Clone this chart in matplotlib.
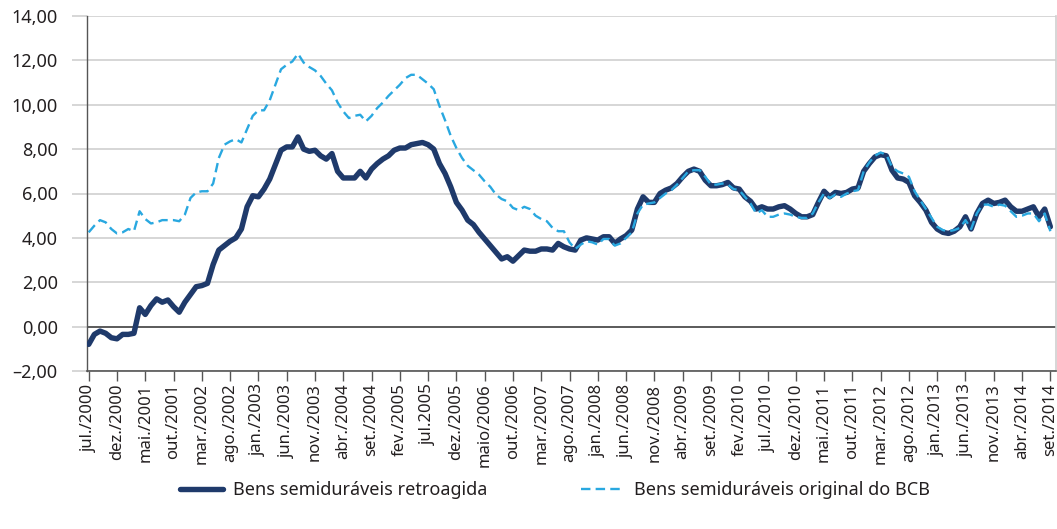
import matplotlib
matplotlib.use("Agg")
import matplotlib.pyplot as plt
import numpy as np

# Monthly series, jul/2000 ... set/2014 (171 months)
retroagida = [
    -0.80, -0.35, -0.20, -0.30, -0.50, -0.55, -0.35, -0.35, -0.30, 0.85,
    0.55, 0.95, 1.25, 1.10, 1.20, 0.90, 0.65, 1.10, 1.45, 1.80,
    1.85, 1.95, 2.80, 3.45, 3.65, 3.85, 4.00, 4.40, 5.40, 5.90,
    5.85, 6.20, 6.65, 7.30, 7.95, 8.10, 8.10, 8.55, 8.00, 7.90,
    7.95, 7.70, 7.55, 7.80, 7.00, 6.70, 6.70, 6.70, 7.00, 6.70,
    7.10, 7.35, 7.55, 7.70, 7.95, 8.05, 8.05, 8.20, 8.25, 8.30,
    8.20, 8.00, 7.35, 6.90, 6.30, 5.60, 5.25, 4.80, 4.60, 4.25,
    3.95, 3.65, 3.35, 3.05, 3.15, 2.95, 3.20, 3.45, 3.40, 3.40,
    3.50, 3.50, 3.45, 3.75, 3.60, 3.50, 3.45, 3.90, 4.00, 3.95,
    3.90, 4.05, 4.05, 3.75, 3.95, 4.10, 4.35, 5.30, 5.85, 5.60,
    5.60, 6.00, 6.15, 6.25, 6.45, 6.75, 7.00, 7.10, 7.00, 6.60,
    6.35, 6.35, 6.40, 6.50, 6.25, 6.20, 5.85, 5.65, 5.30, 5.40,
    5.30, 5.30, 5.40, 5.45, 5.30, 5.10, 4.95, 4.95, 5.05, 5.60,
    6.10, 5.85, 6.05, 6.00, 6.05, 6.20, 6.25, 7.00, 7.35, 7.65,
    7.75, 7.70, 7.05, 6.70, 6.65, 6.50, 5.90, 5.60, 5.25, 4.70,
    4.40, 4.25, 4.20, 4.30, 4.50, 4.95, 4.40, 5.10, 5.55, 5.70,
    5.55, 5.60, 5.70, 5.40, 5.20, 5.20, 5.30, 5.40, 4.95, 5.30,
    4.50,
]

original_bcb = [
    4.25, 4.55, 4.80, 4.70, 4.40, 4.20, 4.25, 4.40, 4.30, 5.20,
    4.85, 4.65, 4.70, 4.80, 4.80, 4.80, 4.75, 5.05, 5.80, 6.05,
    6.10, 6.10, 6.45, 7.60, 8.20, 8.35, 8.45, 8.30, 8.90, 9.50,
    9.75, 9.75, 10.20, 10.90, 11.60, 11.80, 11.95, 12.30, 11.90, 11.70,
    11.55, 11.30, 10.95, 10.65, 10.10, 9.70, 9.40, 9.50, 9.55, 9.25,
    9.50, 9.85, 10.10, 10.40, 10.65, 10.90, 11.20, 11.35, 11.35, 11.15,
    10.95, 10.70, 9.95, 9.30, 8.60, 8.05, 7.60, 7.25, 7.05, 6.85,
    6.55, 6.30, 5.95, 5.75, 5.65, 5.35, 5.25, 5.40, 5.30, 5.00,
    4.85, 4.75, 4.45, 4.30, 4.30, 3.80, 3.50, 3.70, 3.85, 3.80,
    3.70, 3.95, 3.95, 3.65, 3.75, 4.00, 4.25, 5.10, 5.50, 5.55,
    5.60, 5.80, 6.00, 6.15, 6.40, 6.70, 7.00, 7.05, 7.05, 6.75,
    6.40, 6.40, 6.45, 6.40, 6.20, 6.15, 5.85, 5.55, 5.10, 5.25,
    4.95, 4.95, 5.05, 5.10, 5.05, 4.95, 4.90, 4.90, 5.10, 5.60,
    6.00, 5.80, 5.95, 5.85, 6.00, 6.10, 6.15, 7.00, 7.40, 7.70,
    7.85, 7.75, 7.20, 7.00, 6.90, 6.75, 6.10, 5.70, 5.30, 4.90,
    4.50, 4.35, 4.30, 4.35, 4.45, 4.80, 4.40, 5.10, 5.50, 5.50,
    5.40, 5.50, 5.45, 5.20, 4.95, 5.00, 5.10, 5.10, 4.75, 5.10,
    4.30,
]

tick_labels = [
    "jul./2000", "dez./2000", "mai./2001", "out./2001", "mar./2002", "ago./2002",
    "jan./2003", "jun./2003", "nov./2003", "abr./2004", "set./2004", "fev./2005",
    "jul.2005", "dez./2005", "maio/2006", "out./2006", "mar./2007", "ago./2007",
    "jan./2008", "jun./2008", "nov./2008", "abr./2009", "set./2009", "fev./2010",
    "jul./2010", "dez./2010", "mai./2011", "out./2011", "mar./2012", "ago./2012",
    "jan./2013", "jun./2013", "nov./2013", "abr./2014", "set./2014",
]
tick_step = 5  # one label every five months

y_ticks = [-2, 0, 2, 4, 6, 8, 10, 12, 14]
series_names = ["Bens semiduráveis retroagida", "Bens semiduráveis original do BCB"]

plt.rcParams["font.family"] = ["Noto Sans", "DejaVu Sans"]

fig = plt.figure(figsize=(10.57, 5.29), dpi=100)
ax = fig.add_axes([87 / 1057, 1 - 371 / 529, (1056 - 87) / 1057, (371 - 16) / 529])

x = np.arange(len(retroagida))
DARK = "#1f3a6b"
LIGHT = "#29a8e0"

ax.plot(x, retroagida, color=DARK, lw=3.9, solid_joinstyle="round",
        solid_capstyle="round", label=series_names[0], zorder=3)
ax.plot(x, original_bcb, color=LIGHT, lw=1.7, dashes=(4.0, 2.2),
        label=series_names[1], zorder=4)

ax.set_ylim(-2, 14)
ax.set_xlim(-0.3, 171)
ax.set_yticks(y_ticks)
ax.set_yticklabels([("–" + f"{abs(v):.2f}" if v < 0 else f"{v:.2f}").replace(".", ",")
                    for v in y_ticks], fontsize=13, color="#231f20")
ax.yaxis.grid(True, color="#cfcfcf", lw=1.2)
ax.set_axisbelow(True)
ax.axhline(0, color="#3a3a3a", lw=1.1, zorder=2)

xt = np.arange(0, len(retroagida), tick_step)[:len(tick_labels)]
ax.set_xticks(xt)
ax.set_xticklabels(tick_labels, rotation=90, fontsize=12, color="#231f20")
ax.tick_params(axis="x", length=7, width=1, color="#555555", pad=2)
ax.tick_params(axis="y", length=11, width=1.2, color="#cfcfcf", pad=10)

ax.spines["top"].set_visible(False)
ax.spines["right"].set_color("#cfcfcf")
ax.spines["right"].set_linewidth(1.2)
ax.spines["left"].set_color("#555555")
ax.spines["bottom"].set_color("#555555")
ax.spines["left"].set_linewidth(1.0)
ax.spines["bottom"].set_linewidth(1.2)

leg = fig.legend(loc="center", bbox_to_anchor=(555 / 1057, 1 - 490 / 529), ncol=2,
                 frameon=False, fontsize=13, handlelength=2.4,
                 columnspacing=5.2, handletextpad=0.55)
for t in leg.get_texts():
    t.set_color("#231f20")

fig.savefig("out.png", dpi=100)
